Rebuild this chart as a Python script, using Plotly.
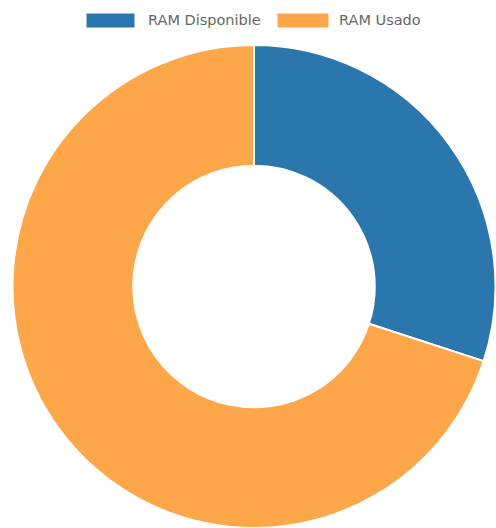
import plotly.graph_objects as go

labels = ["RAM Disponible", "RAM Usado"]
values = [30, 70]
colors = ["#2b77ad", "#fda64a"]

W, H = 496, 528

fig = go.Figure(go.Pie(
    labels=labels, values=values, hole=0.5, sort=False,
    direction="clockwise", rotation=0,
    marker=dict(colors=colors, line=dict(color="white", width=2)),
    textinfo="none", showlegend=False,
    domain=dict(x=[12/W, 1.0], y=[0, 1 - 45/H]),
))

# custom legend boxes like the reference
boxes = [(86, 135), (277, 329)]
texts_x = [146, 337]
for (x0, x1), tx, c, lab in zip(boxes, texts_x, colors, labels):
    fig.add_shape(type="rect", xref="paper", yref="paper",
                  x0=x0/W, x1=x1/W, y0=1-28/H, y1=1-13/H,
                  fillcolor=c, line=dict(color="white", width=1))
    fig.add_annotation(xref="paper", yref="paper", x=tx/W, y=1-20.5/H,
                       xanchor="left", yanchor="middle", text=lab, showarrow=False,
                       font=dict(family="DejaVu Sans", size=14.5, color="#666666"))

fig.update_layout(width=W, height=H, margin=dict(l=0, r=0, t=0, b=0),
                  paper_bgcolor="white", plot_bgcolor="white")
fig.write_html("out.html")
